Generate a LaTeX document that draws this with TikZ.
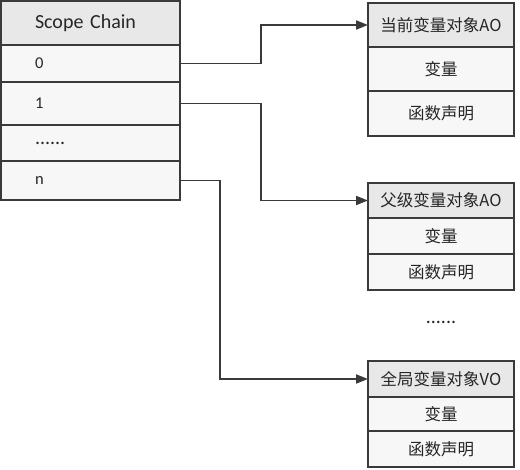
\documentclass[tikz,border=0pt]{standalone}
\usepackage{fontspec}
\setmainfont{Carlito}
\newfontfamily\cjk{Noto Sans CJK SC}
\usetikzlibrary{positioning,arrows.meta,backgrounds,calc}
\definecolor{edgegray}{HTML}{3A3A3A}
\definecolor{headfill}{HTML}{E8E8E8}
\definecolor{rowfill}{HTML}{F7F7F7}
\definecolor{shadowgray}{HTML}{D4D4D4}

\tikzstyle{cell} = [draw=edgegray, line width=1.3pt, rectangle, outer sep=0pt, inner ysep=0pt, text=black!85]
\tikzstyle{chainhead} = [cell, fill=headfill, text width=111pt, inner xsep=34pt, align=left, font=\fontsize{20}{24}\selectfont]
\tikzstyle{chainrow} = [cell, fill=rowfill, text width=111pt, inner xsep=34pt, align=left, font=\fontsize{16.5}{20}\selectfont]
\tikzstyle{objhead} = [cell, fill=headfill, minimum width=146pt, font=\cjk\fontsize{16.5}{20}\selectfont]
\tikzstyle{objrow} = [cell, fill=rowfill, minimum width=146pt, font=\cjk\fontsize{16.5}{20}\selectfont]
\tikzstyle{link} = [draw=edgegray, line width=1.9pt, -{Triangle[length=12pt,width=9pt]}]

\begin{document}
\begin{tikzpicture}[x=1pt, y=-1pt]
    \path[use as bounding box, fill=white] (0,0) rectangle (520,470);

    % scope chain
    \node [chainhead, minimum height=44pt, anchor=north west] (sc) at (1,1) {Scope Chain};
    \node [chainrow, minimum height=37pt, below=0pt of sc] (sc0) {0};
    \node [chainrow, minimum height=43pt, below=0pt of sc0] (sc1) {1};
    \node [chainrow, minimum height=36pt, below=0pt of sc1] (scd) {\fontsize{20}{24}\selectfont ......};
    \node [chainrow, minimum height=39pt, below=0pt of scd] (scn) {n};

    % variable objects
    \node [objhead, minimum height=44pt, anchor=north west] (cur) at (368,3) {当前变量对象AO};
    \node [objrow, minimum height=44pt, below=0pt of cur] (curvar) {变量};
    \node [objrow, minimum height=45pt, below=0pt of curvar] (curfn) {函数声明};

    \node [objhead, minimum height=35pt, anchor=north west] (par) at (368,183) {父级变量对象AO};
    \node [objrow, minimum height=36pt, below=0pt of par] (parvar) {变量};
    \node [objrow, minimum height=36pt, below=0pt of parvar] (parfn) {函数声明};

    \node [font=\fontsize{20}{24}\selectfont, text=black!85] (more) at (441,322) {......};

    \node [objhead, minimum height=36pt, anchor=north west] (glob) at (368,361) {全局变量对象VO};
    \node [objrow, minimum height=34pt, below=0pt of glob] (globvar) {变量};
    \node [objrow, minimum height=36pt, below=0pt of globvar] (globfn) {函数声明};

    \begin{scope}[on background layer]
        \fill[shadowgray] ($(sc.north west)+(4,4)$) rectangle ($(scn.south east)+(4,4)$);
        \fill[shadowgray] ($(cur.north west)+(4,4)$) rectangle ($(curfn.south east)+(4,4)$);
        \fill[shadowgray] ($(par.north west)+(4,4)$) rectangle ($(parfn.south east)+(4,4)$);
        \fill[shadowgray] ($(glob.north west)+(4,4)$) rectangle ($(globfn.south east)+(4,4)$);
    \end{scope}

    \draw [link] (sc0.east) -- ++(81,0) |- (cur.west);
    \draw [link] (sc1.east) -- ++(81,0) |- (par.west);
    \draw [link] (scn.east) -- ++(40,0) |- (glob.west);
\end{tikzpicture}
\end{document}
